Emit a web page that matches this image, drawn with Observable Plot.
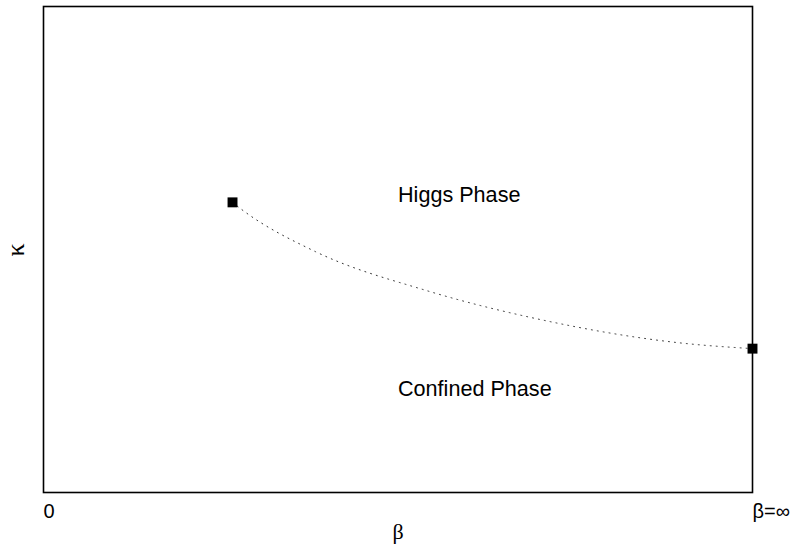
<!DOCTYPE html>
<html>
<head>
<meta charset="utf-8">
<script src="https://cdn.jsdelivr.net/npm/d3@7"></script>
<script src="https://cdn.jsdelivr.net/npm/@observablehq/plot@0.6"></script>
<style>
  html, body { margin: 0; padding: 0; background: #fff; }
</style>
</head>
<body>
<div id="chart"></div>
<script>
// Transition line (beta, kappa) in normalized units
const curveBeta  = [0.2666, 0.278, 0.383, 0.539, 0.694, 0.903, 1.0];
const curveKappa = [0.597, 0.584, 0.496, 0.416, 0.358, 0.307, 0.296];
// End points of the transition line
const endBeta  = [0.2666, 1.0];
const endKappa = [0.597, 0.296];
// Phase labels
const phaseLabels = ["Higgs Phase", "Confined Phase"];
const phaseBeta   = [0.5, 0.5];
const phaseKappa  = [0.611, 0.212];
// Tick labels
const tickValues = [0, 1];
const tickLabels = ["0", "β=∞"];
const xLabel = "β";
const yLabel = "κ";

const curve = curveBeta.map((b, i) => ({beta: b, kappa: curveKappa[i]}));
const ends = endBeta.map((b, i) => ({beta: b, kappa: endKappa[i]}));
const phases = phaseLabels.map((t, i) => ({t, beta: phaseBeta[i], kappa: phaseKappa[i]}));
const ticks = tickValues.map((v, i) => ({v, t: tickLabels[i]}));

const chart = Plot.plot({
  width: 794,
  height: 546,
  marginLeft: 43,
  marginRight: 42,
  marginTop: 6,
  marginBottom: 54,
  x: {domain: [0, 1], axis: null},
  y: {domain: [0, 1], axis: null},
  style: {background: "#fff"},
  marks: [
    Plot.frame({stroke: "#000", strokeWidth: 1.6}),
    Plot.line(curve, {x: "beta", y: "kappa", curve: "monotone-x", stroke: "#333", strokeWidth: 1, strokeDasharray: "1,5"}),
    Plot.dot(ends, {x: "beta", y: "kappa", symbol: "square", r: 5.6, fill: "#000", stroke: "none"}),
    Plot.text(phases, {x: "beta", y: "kappa", text: "t", textAnchor: "start", fontSize: 21.6, fontFamily: "Liberation Sans, Arial, sans-serif", fill: "#000"}),
    Plot.text(ticks, {x: "v", frameAnchor: "bottom", text: "t", textAnchor: "start", dy: 25, fontSize: 20, fontFamily: "Liberation Sans, Arial, sans-serif", fill: "#000"}),
    Plot.text([xLabel], {frameAnchor: "bottom", text: d => d, dy: 46, fontSize: 22, fontFamily: "Liberation Serif, Times New Roman, serif", fill: "#000"}),
    Plot.text([yLabel], {frameAnchor: "left", text: d => d, dx: -28, dy: 7, rotate: -90, fontSize: 26, fontFamily: "Liberation Serif, Times New Roman, serif", fill: "#000"})
  ]
});
document.getElementById("chart").appendChild(chart);
</script>
</body>
</html>
